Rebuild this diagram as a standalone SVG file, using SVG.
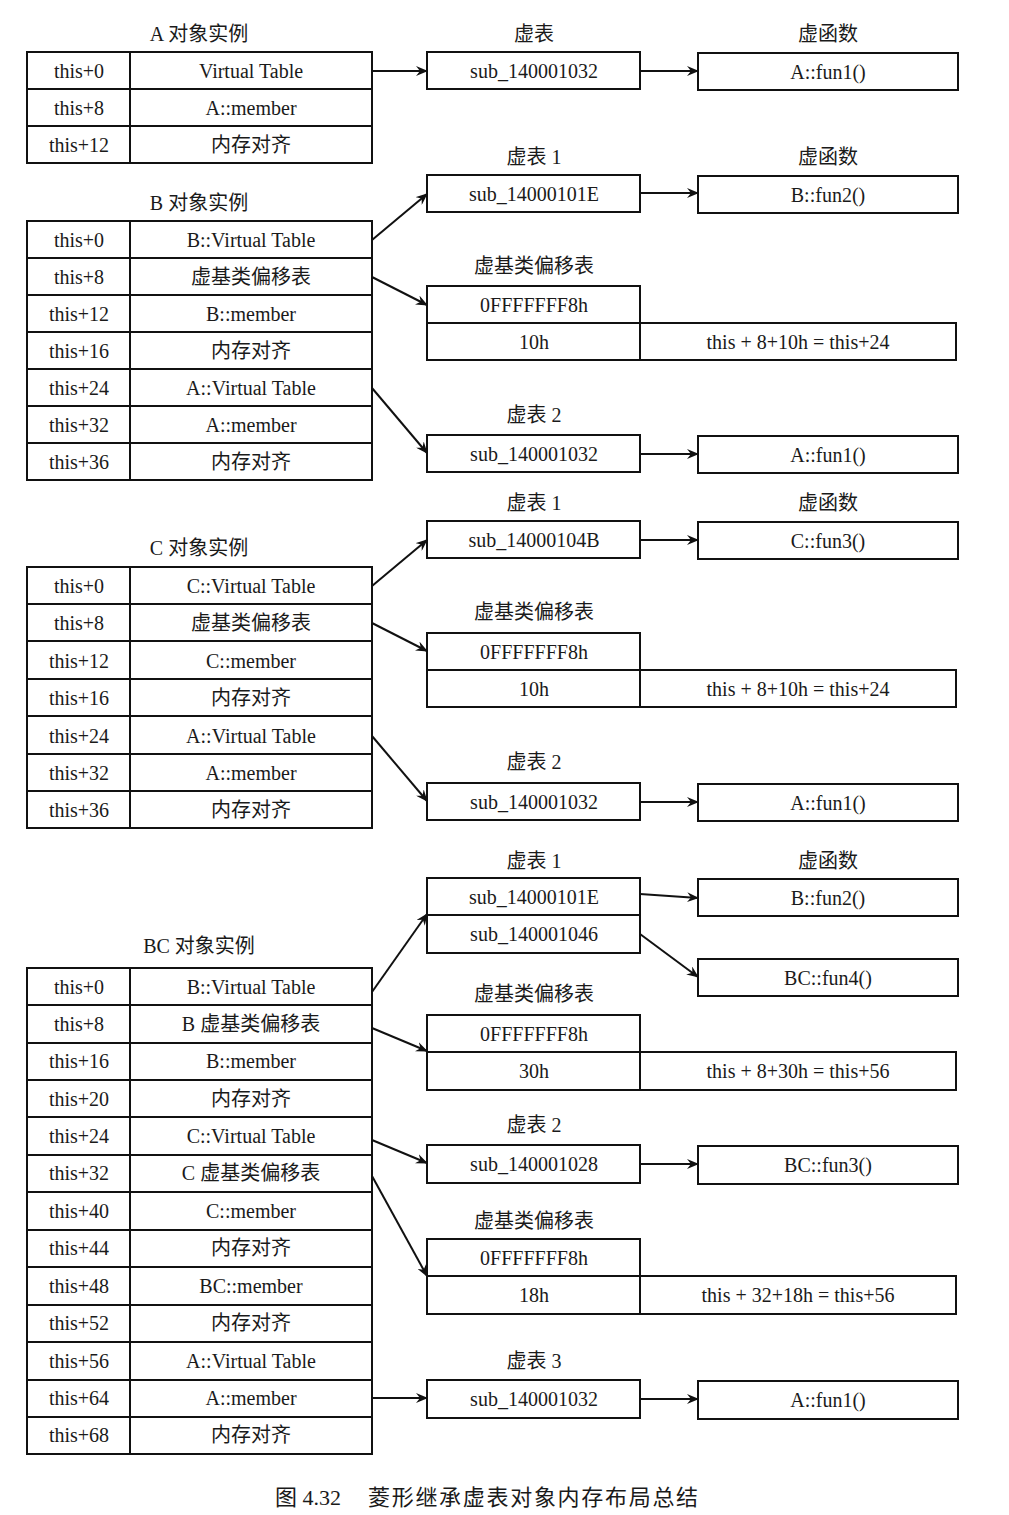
<svg xmlns="http://www.w3.org/2000/svg" width="1009" height="1515" viewBox="0 0 1009 1515">
<style>
.b{fill:#fff;stroke:#111;stroke-width:2}
.l{stroke:#111;stroke-width:2;fill:none}
.t{font-family:"Liberation Serif","Noto Sans CJK SC",serif;font-size:20px;fill:#1a1a1a;text-anchor:middle;dominant-baseline:central}
.h{font-family:"Liberation Serif","Noto Sans CJK SC",serif;font-size:20px;fill:#1a1a1a;text-anchor:middle}
.c{stroke:#111;stroke-width:2;fill:none;marker-end:url(#ar)}
.cap{font-family:"Liberation Serif","Noto Sans CJK SC",serif;font-size:22px;fill:#1a1a1a}
</style>
<defs>
<marker id="ar" viewBox="0 0 12 10" refX="11" refY="5" markerWidth="12" markerHeight="10" markerUnits="userSpaceOnUse" orient="auto">
<path d="M0,0 L12,5 L0,10 L4,5 z" fill="#111"/>
</marker>
</defs>
<rect width="1009" height="1515" fill="#fff"/>

<!-- A object -->
<g id="objA">
<text class="h" x="199" y="41">A 对象实例</text>
<rect class="b" x="27" y="52" width="345" height="111"/>
<path class="l" d="M130,52V163M27,89H372M27,126H372"/>
<text class="t" x="79" y="71">this+0</text><text class="t" x="251" y="71">Virtual Table</text>
<text class="t" x="79" y="108">this+8</text><text class="t" x="251" y="108">A::member</text>
<text class="t" x="79" y="145">this+12</text><text class="t" x="251" y="145">内存对齐</text>
</g>
<g id="vtA">
<text class="h" x="534" y="41">虚表</text>
<rect class="b" x="427" y="52" width="213" height="37"/>
<text class="t" x="534" y="71">sub_140001032</text>
</g>
<g id="fnA">
<text class="h" x="828" y="41">虚函数</text>
<rect class="b" x="698" y="53" width="260" height="37"/>
<text class="t" x="828" y="72">A::fun1()</text>
</g>

<!-- B object -->
<g id="objB">
<text class="h" x="199" y="210">B 对象实例</text>
<rect class="b" x="27" y="221" width="345" height="259"/>
<path class="l" d="M130,221V480M27,258H372M27,295H372M27,332H372M27,369H372M27,406H372M27,443H372"/>
<text class="t" x="79" y="240">this+0</text><text class="t" x="251" y="240">B::Virtual Table</text>
<text class="t" x="79" y="277">this+8</text><text class="t" x="251" y="277">虚基类偏移表</text>
<text class="t" x="79" y="314">this+12</text><text class="t" x="251" y="314">B::member</text>
<text class="t" x="79" y="351">this+16</text><text class="t" x="251" y="351">内存对齐</text>
<text class="t" x="79" y="388">this+24</text><text class="t" x="251" y="388">A::Virtual Table</text>
<text class="t" x="79" y="425">this+32</text><text class="t" x="251" y="425">A::member</text>
<text class="t" x="79" y="462">this+36</text><text class="t" x="251" y="462">内存对齐</text>
</g>
<g id="vtB1">
<text class="h" x="534" y="164">虚表 1</text>
<rect class="b" x="427" y="175" width="213" height="37"/>
<text class="t" x="534" y="194">sub_14000101E</text>
</g>
<g id="fnB1">
<text class="h" x="828" y="164">虚函数</text>
<rect class="b" x="698" y="176" width="260" height="37"/>
<text class="t" x="828" y="195">B::fun2()</text>
</g>
<g id="vbB">
<text class="h" x="534" y="273">虚基类偏移表</text>
<rect class="b" x="427" y="286" width="213" height="37"/>
<rect class="b" x="427" y="323" width="529" height="37"/>
<path class="l" d="M640,323V360"/>
<text class="t" x="534" y="305">0FFFFFFF8h</text>
<text class="t" x="534" y="342">10h</text>
<text class="t" x="798" y="342">this + 8+10h = this+24</text>
</g>
<g id="vtB2">
<text class="h" x="534" y="422">虚表 2</text>
<rect class="b" x="427" y="435" width="213" height="37"/>
<text class="t" x="534" y="454">sub_140001032</text>
</g>
<g id="fnB2">
<rect class="b" x="698" y="436" width="260" height="37"/>
<text class="t" x="828" y="455">A::fun1()</text>
</g>

<!-- C object -->
<g id="objC">
<text class="h" x="199" y="555">C 对象实例</text>
<rect class="b" x="27" y="567" width="345" height="261"/>
<path class="l" d="M130,567V828M27,604H372M27,641H372M27,679H372M27,716H372M27,754H372M27,791H372"/>
<text class="t" x="79" y="586">this+0</text><text class="t" x="251" y="586">C::Virtual Table</text>
<text class="t" x="79" y="623">this+8</text><text class="t" x="251" y="623">虚基类偏移表</text>
<text class="t" x="79" y="661">this+12</text><text class="t" x="251" y="661">C::member</text>
<text class="t" x="79" y="698">this+16</text><text class="t" x="251" y="698">内存对齐</text>
<text class="t" x="79" y="736">this+24</text><text class="t" x="251" y="736">A::Virtual Table</text>
<text class="t" x="79" y="773">this+32</text><text class="t" x="251" y="773">A::member</text>
<text class="t" x="79" y="810">this+36</text><text class="t" x="251" y="810">内存对齐</text>
</g>
<g id="vtC1">
<text class="h" x="534" y="510">虚表 1</text>
<rect class="b" x="427" y="521" width="213" height="37"/>
<text class="t" x="534" y="540">sub_14000104B</text>
</g>
<g id="fnC1">
<text class="h" x="828" y="510">虚函数</text>
<rect class="b" x="698" y="522" width="260" height="37"/>
<text class="t" x="828" y="541">C::fun3()</text>
</g>
<g id="vbC">
<text class="h" x="534" y="619">虚基类偏移表</text>
<rect class="b" x="427" y="633" width="213" height="37"/>
<rect class="b" x="427" y="670" width="529" height="37"/>
<path class="l" d="M640,670V707"/>
<text class="t" x="534" y="652">0FFFFFFF8h</text>
<text class="t" x="534" y="689">10h</text>
<text class="t" x="798" y="689">this + 8+10h = this+24</text>
</g>
<g id="vtC2">
<text class="h" x="534" y="769">虚表 2</text>
<rect class="b" x="427" y="783" width="213" height="37"/>
<text class="t" x="534" y="802">sub_140001032</text>
</g>
<g id="fnC2">
<rect class="b" x="698" y="784" width="260" height="37"/>
<text class="t" x="828" y="803">A::fun1()</text>
</g>

<!-- BC object -->
<g id="objBC">
<text class="h" x="199" y="953">BC 对象实例</text>
<rect class="b" x="27" y="968" width="345" height="486"/>
<path class="l" d="M130,968V1454M27,1005H372M27,1043H372M27,1080H372M27,1117H372M27,1155H372M27,1192H372M27,1230H372M27,1267H372M27,1305H372M27,1342H372M27,1380H372M27,1417H372"/>
<text class="t" x="79" y="987">this+0</text><text class="t" x="251" y="987">B::Virtual Table</text>
<text class="t" x="79" y="1024">this+8</text><text class="t" x="251" y="1024">B 虚基类偏移表</text>
<text class="t" x="79" y="1061">this+16</text><text class="t" x="251" y="1061">B::member</text>
<text class="t" x="79" y="1099">this+20</text><text class="t" x="251" y="1099">内存对齐</text>
<text class="t" x="79" y="1136">this+24</text><text class="t" x="251" y="1136">C::Virtual Table</text>
<text class="t" x="79" y="1173">this+32</text><text class="t" x="251" y="1173">C 虚基类偏移表</text>
<text class="t" x="79" y="1211">this+40</text><text class="t" x="251" y="1211">C::member</text>
<text class="t" x="79" y="1248">this+44</text><text class="t" x="251" y="1248">内存对齐</text>
<text class="t" x="79" y="1286">this+48</text><text class="t" x="251" y="1286">BC::member</text>
<text class="t" x="79" y="1323">this+52</text><text class="t" x="251" y="1323">内存对齐</text>
<text class="t" x="79" y="1361">this+56</text><text class="t" x="251" y="1361">A::Virtual Table</text>
<text class="t" x="79" y="1398">this+64</text><text class="t" x="251" y="1398">A::member</text>
<text class="t" x="79" y="1435">this+68</text><text class="t" x="251" y="1435">内存对齐</text>
</g>
<g id="vtBC1">
<text class="h" x="534" y="868">虚表 1</text>
<rect class="b" x="427" y="878" width="213" height="75"/>
<path class="l" d="M427,915H640"/>
<text class="t" x="534" y="897">sub_14000101E</text>
<text class="t" x="534" y="934">sub_140001046</text>
</g>
<g id="fnBC1">
<text class="h" x="828" y="868">虚函数</text>
<rect class="b" x="698" y="879" width="260" height="37"/>
<text class="t" x="828" y="898">B::fun2()</text>
</g>
<g id="fnBC4">
<rect class="b" x="698" y="959" width="260" height="37"/>
<text class="t" x="828" y="978">BC::fun4()</text>
</g>
<g id="vbBC1">
<text class="h" x="534" y="1001">虚基类偏移表</text>
<rect class="b" x="427" y="1015" width="213" height="37"/>
<rect class="b" x="427" y="1052" width="529" height="38"/>
<path class="l" d="M640,1052V1090"/>
<text class="t" x="534" y="1034">0FFFFFFF8h</text>
<text class="t" x="534" y="1071">30h</text>
<text class="t" x="798" y="1071">this + 8+30h = this+56</text>
</g>
<g id="vtBC2">
<text class="h" x="534" y="1132">虚表 2</text>
<rect class="b" x="427" y="1145" width="213" height="38"/>
<text class="t" x="534" y="1164">sub_140001028</text>
</g>
<g id="fnBC3">
<rect class="b" x="698" y="1146" width="260" height="38"/>
<text class="t" x="828" y="1165">BC::fun3()</text>
</g>
<g id="vbBC2">
<text class="h" x="534" y="1228">虚基类偏移表</text>
<rect class="b" x="427" y="1239" width="213" height="37"/>
<rect class="b" x="427" y="1276" width="529" height="38"/>
<path class="l" d="M640,1276V1314"/>
<text class="t" x="534" y="1258">0FFFFFFF8h</text>
<text class="t" x="534" y="1295">18h</text>
<text class="t" x="798" y="1295">this + 32+18h = this+56</text>
</g>
<g id="vtBC3">
<text class="h" x="534" y="1368">虚表 3</text>
<rect class="b" x="427" y="1380" width="213" height="38"/>
<text class="t" x="534" y="1399">sub_140001032</text>
</g>
<g id="fnBC5">
<rect class="b" x="698" y="1381" width="260" height="38"/>
<text class="t" x="828" y="1400">A::fun1()</text>
</g>

<g id="connectors">
<path class="c" d="M372,71H427"/>
<path class="c" d="M640,71H698"/>
<path class="c" d="M372,240L427,194"/>
<path class="c" d="M640,193H698"/>
<path class="c" d="M372,277L427,305"/>
<path class="c" d="M372,388L427,453"/>
<path class="c" d="M640,454H698"/>
<path class="c" d="M372,586L427,540"/>
<path class="c" d="M640,540H698"/>
<path class="c" d="M372,623L427,651"/>
<path class="c" d="M372,736L427,801"/>
<path class="c" d="M640,802H698"/>
<path class="c" d="M372,992L427,914"/>
<path class="c" d="M640,894L698,898"/>
<path class="c" d="M640,934L698,977"/>
<path class="c" d="M372,1028L427,1051"/>
<path class="c" d="M372,1140L427,1163"/>
<path class="c" d="M640,1164H698"/>
<path class="c" d="M372,1176L427,1276"/>
<path class="c" d="M372,1398H427"/>
<path class="c" d="M640,1399H698"/>
</g>

<text class="cap" x="275" y="1505">图 4.32</text>
<text class="cap" x="368" y="1505" letter-spacing="1.7">菱形继承虚表对象内存布局总结</text>
</svg>
